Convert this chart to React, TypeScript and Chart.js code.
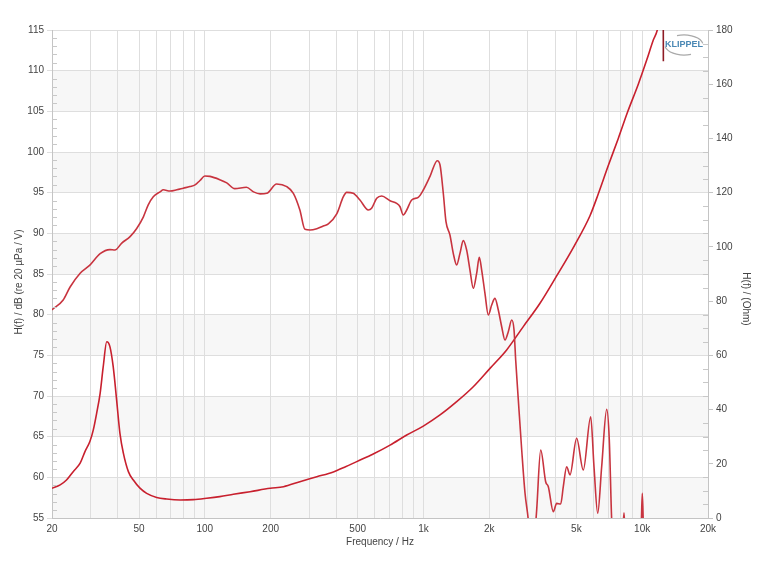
import React, { useEffect, useRef } from 'react';
import { Chart, registerables } from 'chart.js';

Chart.register(...registerables);

// Sound pressure level H(f) in dB (left axis)
const splFreq = [
  20, 22.5, 24.2, 26.9, 29.8, 33.2, 36.8, 38.8, 41.7, 45.5, 48.8, 52.3, 55.1, 58.1, 62.4, 64.6, 69.3,
  74.4, 79.7, 85.5, 90.2, 95, 100, 105.6, 117, 126, 137, 155, 167, 179, 192, 213, 237, 254, 272, 287,
  303, 325, 348, 367, 401, 430, 445, 477, 512, 559, 579, 611, 644, 703, 754, 781, 808, 838, 883, 946,
  998, 1071, 1156, 1190, 1232, 1267, 1321, 1368, 1418, 1468, 1520, 1575, 1631, 1689, 1750, 1799, 1845,
  1910, 1978, 2050, 2122, 2198, 2278, 2358, 2442, 2532, 2594, 2640, 2714, 2812, 2911, 3015, 3120, 3250,
  3293, 3435, 3620, 3722, 3923, 4064, 4240, 4358, 4515, 4676, 5015, 5378, 5816, 6021, 6261, 6528, 6883,
  7074, 7254, 7600, 8100, 8258, 8400, 9400, 9900, 10013, 10130, 10500, 11500,
];
const splDb = [
  80.6, 81.8, 83.4, 85.1, 86.1, 87.5, 88.0, 87.95, 88.8, 89.6, 90.6, 92.0, 93.5, 94.5, 95.1, 95.35, 95.2,
  95.35, 95.55, 95.75, 95.95, 96.5, 97.05, 97.0, 96.6, 96.2, 95.5, 95.66, 95.1, 94.85, 94.92, 96.07, 95.74,
  94.92, 92.87, 90.49, 90.41, 90.57, 90.9, 91.15, 92.38, 94.5, 95.04, 94.92, 94.1, 92.87, 93.08, 94.31,
  94.59, 94.01, 93.69, 93.27, 92.25, 92.87, 94.1, 94.43, 95.33, 97.0, 98.93, 98.4, 94.9, 91.43, 89.79,
  87.54, 86.11, 87.54, 89.1, 87.95, 85.49, 83.24, 85.08, 87.05, 85.49, 82.62, 79.96, 81.19, 82.0, 80.57,
  78.52, 76.88, 77.91, 79.34, 78.11, 74.4, 69.5, 63.4, 58.1, 54.75, 50, 54, 56, 63.36, 59.46, 58.85, 55.78,
  56.8, 56.72, 58.85, 61.3, 60.3, 64.8, 60.9, 67.45, 61.3, 55.58, 61.3, 68.35, 64.6, 54.75, 48, 52, 55.65,
  52, 48, 54, 58.03, 54, 45, 40,
];

// Electrical impedance in Ohm (right axis)
const impFreq = [
  20, 21.8, 23.3, 25.0, 26.9, 28.3, 29.8, 30.9, 32.0, 33.2, 34.3, 35.6, 36.8, 38.1, 39.5, 40.9, 42.4,
  44.7, 47.1, 50.5, 54.2, 60.2, 66.9, 77, 88.6, 102, 117, 135, 161, 199, 229, 272, 325, 387, 440, 495,
  589, 703, 838, 998, 1190, 1418, 1689, 2014, 2400, 2860, 3410, 4064, 4900, 5772, 6296, 7000, 7776,
  8600, 9600, 10488, 11244, 11727, 12100, 12480, 12500,
];
const impOhm = [
  10.95, 12.2, 14.0, 17.1, 20.2, 24.5, 28.2, 32.5, 38.6, 46.0, 55.8, 65.0, 63.2, 55.8, 43.5, 31.2, 23.9,
  17.1, 14.0, 11.0, 9.1, 7.6, 7.0, 6.64, 6.76, 7.26, 7.87, 8.73, 9.71, 10.95, 11.56, 13.4, 15.2, 17.0,
  18.9, 20.8, 23.6, 26.9, 30.6, 33.9, 38.0, 42.9, 48.4, 55.2, 62.0, 70.6, 79.2, 89.3, 100.5, 111.5, 119.5,
  130, 140, 150, 160, 168.9, 176.3, 180, 186, 190, 168.5,
];

const xGridValues = [
  20, 30, 40, 50, 60, 70, 80, 90, 100, 200, 300, 400, 500, 600, 700, 800, 900, 1000, 2000, 3000, 4000,
  5000, 6000, 7000, 8000, 9000, 10000, 20000,
];
const xLabelValues = [20, 50, 100, 200, 500, 1000, 2000, 5000, 10000, 20000];
const xLabelText = ['20', '50', '100', '200', '500', '1k', '2k', '5k', '10k', '20k'];

const FONT = "'Liberation Sans', Arial, sans-serif";
const TEXT = '#444444';
const GRID = '#dedede';
const AXIS = '#c4c4c4';

const bandsPlugin = {
  id: 'bands',
  beforeDraw(chart: any) {
    const { ctx, chartArea: a, scales } = chart;
    const y = scales.y;
    ctx.save();
    ctx.fillStyle = '#f7f7f7';
    for (let v = 55; v < 115; v += 10) {
      const t = y.getPixelForValue(v + 5);
      const b = y.getPixelForValue(v);
      ctx.fillRect(a.left, t, a.right - a.left, b - t);
    }
    ctx.restore();
  },
};

const decorPlugin = {
  id: 'decor',
  afterDraw(chart: any) {
    const { ctx, chartArea: a, scales } = chart;
    const y = scales.y;
    const y2 = scales.y2;
    ctx.save();
    // minor ticks
    ctx.strokeStyle = '#c8c8c8';
    ctx.lineWidth = 1;
    ctx.beginPath();
    for (let v = 56; v < 115; v++) {
      if (v % 5 === 0) continue;
      const p = Math.round(y.getPixelForValue(v)) + 0.5;
      ctx.moveTo(a.left, p);
      ctx.lineTo(a.left + 5, p);
    }
    for (let v = 5; v < 180; v += 5) {
      if (v % 20 === 0) continue;
      const p = Math.round(y2.getPixelForValue(v)) + 0.5;
      ctx.moveTo(a.right - 5, p);
      ctx.lineTo(a.right, p);
    }
    ctx.stroke();

    // axis titles
    ctx.fillStyle = TEXT;
    ctx.font = `10px ${FONT}`;
    ctx.textAlign = 'center';
    ctx.textBaseline = 'middle';
    ctx.fillText('Frequency / Hz', (a.left + a.right) / 2, 542);

    ctx.save();
    ctx.translate(19, 282);
    ctx.rotate(-Math.PI / 2);
    ctx.fillText('H(f) / dB (re 20 µPa / V)', 0, 0);
    ctx.restore();

    ctx.save();
    ctx.translate(746, 299);
    ctx.rotate(Math.PI / 2);
    ctx.fillText('H(f) / (Ohm)', 0, 0);
    ctx.restore();

    // KLIPPEL logo
    ctx.strokeStyle = '#a9a9a9';
    ctx.lineWidth = 1.2;
    ctx.beginPath();
    ctx.ellipse(684, 45, 19, 10, 0, -Math.PI * 0.62, -Math.PI * 0.05);
    ctx.stroke();
    ctx.beginPath();
    ctx.ellipse(684, 45, 19, 10, 0, Math.PI * 0.38, Math.PI * 0.95);
    ctx.stroke();
    ctx.fillStyle = '#4a88b4';
    ctx.font = `bold 9px ${FONT}`;
    ctx.fillText('KLIPPEL', 684, 45);
    ctx.restore();
  },
};

export default function App() {
  const ref = useRef<HTMLCanvasElement | null>(null);

  useEffect(() => {
    if (!ref.current) return;
    const chart = new Chart(ref.current, {
      type: 'line',
      data: {
        datasets: [
          {
            label: 'SPL',
            data: splFreq.map((f, i) => ({ x: f, y: splDb[i] })),
            yAxisID: 'y',
            borderColor: '#c8343f',
            borderWidth: 1.6,
            pointRadius: 0,
            cubicInterpolationMode: 'monotone',
            fill: false,
          },
          {
            label: 'Impedance',
            data: impFreq.map((f, i) => ({ x: f, y: impOhm[i] })),
            yAxisID: 'y2',
            borderColor: '#c8202e',
            borderWidth: 1.6,
            pointRadius: 0,
            cubicInterpolationMode: 'monotone',
            fill: false,
            segment: {
              borderColor: (c: any) => (c.p0DataIndex >= impFreq.length - 2 ? '#8e1b24' : undefined),
            },
          },
        ],
      },
      options: {
        animation: false,
        responsive: false,
        events: [],
        layout: { padding: { top: 30, left: 0, right: 0, bottom: 0 } },
        plugins: { legend: { display: false }, tooltip: { enabled: false } },
        scales: {
          x: {
            type: 'logarithmic',
            position: 'bottom',
            min: 20,
            max: 20000,
            afterFit: (s: any) => {
              s.height = 70;
            },
            afterBuildTicks: (s: any) => {
              s.ticks = xGridValues.map((v) => ({ value: v }));
            },
            ticks: {
              autoSkip: false,
              maxRotation: 0,
              minRotation: 0,
              padding: 5,
              color: TEXT,
              font: { family: FONT, size: 10 },
              callback: (v: any) => {
                const i = xLabelValues.indexOf(Number(v));
                return i >= 0 ? xLabelText[i] : '';
              },
            },
            grid: { color: GRID, drawTicks: false },
            border: { color: AXIS },
          },
          y: {
            position: 'left',
            min: 55,
            max: 115,
            afterFit: (s: any) => {
              s.width = 52;
            },
            ticks: { stepSize: 5, padding: 3, color: TEXT, font: { family: FONT, size: 10 } },
            grid: { color: GRID, tickLength: 5 },
            border: { color: AXIS },
          },
          y2: {
            position: 'right',
            min: 0,
            max: 180,
            afterFit: (s: any) => {
              s.width = 57;
            },
            ticks: { stepSize: 20, padding: 3, color: TEXT, font: { family: FONT, size: 10 } },
            grid: { drawOnChartArea: false, color: AXIS, tickLength: 5 },
            border: { color: AXIS },
          },
        },
      } as any,
      plugins: [bandsPlugin, decorPlugin],
    });
    return () => chart.destroy();
  }, []);

  return (
    <div style={{ position: 'fixed', left: 0, top: 0, width: 765, height: 588, background: '#fff' }}>
      <canvas ref={ref} width={765} height={588} style={{ display: 'block', width: 765, height: 588 }} />
    </div>
  );
}
